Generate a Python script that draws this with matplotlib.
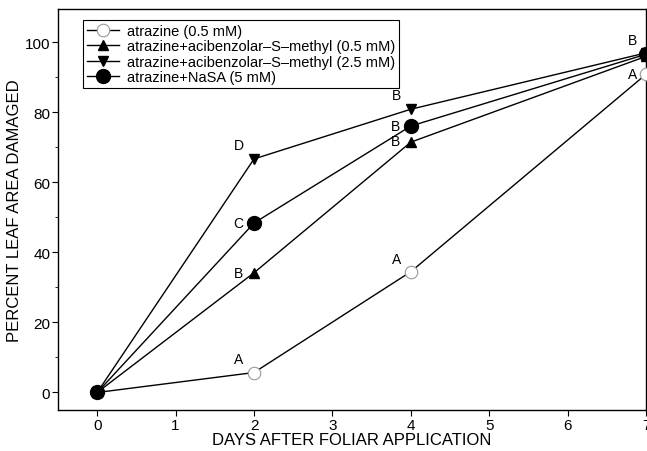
import numpy as np
import matplotlib.pyplot as plt

plt.rcParams['font.family'] = ['Liberation Sans', 'DejaVu Sans']

## Data
days = [0, 2, 4, 7]
atrazine = [0, 5.7, 34.5, 90.9]
asm_low = [0, 34.2, 71.5, 96.0]
asm_high = [0, 66.7, 80.9, 97.0]
nasa = [0, 48.4, 76.1, 96.6]

# letter labels (series, day index, letter)
letters = [
    ("atrazine", 1, "A"), ("asm_low", 1, "B"), ("nasa", 1, "C"), ("asm_high", 1, "D"),
    ("atrazine", 2, "A"), ("asm_low", 2, "B"), ("nasa", 2, "B"), ("asm_high", 2, "B"),
    ("atrazine", 3, "A"), ("nasa", 3, "B"),
]
series = {"atrazine": atrazine, "asm_low": asm_low, "asm_high": asm_high, "nasa": nasa}
# offsets in points for each label (left/up of the point)
offsets = [(-11, 10), (-11, 0), (-11, 0), (-11, 10),
           (-10, 9), (-11, 1), (-11, 0), (-10, 10),
           (-10, 0), (-10, 10)]

fig = plt.figure(figsize=(6.47, 4.52), dpi=100)
ax = fig.add_axes([0.0896, 0.0907, 0.909, 0.887])

ax.plot(days, atrazine, color='black', lw=1, marker='o', ms=9, mfc='white',
        mec='#999999', mew=0.8, label='atrazine (0.5 mM)', zorder=3)
ax.plot(days, asm_low, color='black', lw=1, marker='^', ms=7,
        label='atrazine+acibenzolar\u2013S\u2013methyl (0.5 mM)', zorder=3)
ax.plot(days, asm_high, color='black', lw=1, marker='v', ms=7,
        label='atrazine+acibenzolar\u2013S\u2013methyl (2.5 mM)', zorder=3)
ax.plot(days, nasa, color='black', lw=1, marker='o', ms=10,
        label='atrazine+NaSA (5 mM)', zorder=4)

for (key, i, txt), (dx, dy) in zip(letters, offsets):
    ax.annotate(txt, (days[i], series[key][i]), xytext=(dx, dy),
                textcoords='offset points', ha='center', va='center', fontsize=10)

ax.set_xlim(-0.5, 7)
ax.set_ylim(-5, 109.5)
ax.set_xticks(range(0, 8))
ax.set_yticks(range(0, 101, 20))
ax.set_yticks(range(10, 101, 20), minor=True)
ax.tick_params(direction='out', length=4, width=0.8, labelsize=11)
ax.tick_params(axis='x', pad=2)
ax.tick_params(axis='y', pad=1.5)
ax.tick_params(which='minor', direction='out', length=2.5, width=0.6)
for s in ax.spines.values():
    s.set_linewidth(1.0)

ax.set_xlabel("DAYS AFTER FOLIAR APPLICATION", fontsize=12, labelpad=0)
ax.set_ylabel("PERCENT LEAF AREA DAMAGED", fontsize=12, labelpad=2)

leg = ax.legend(loc='upper left', bbox_to_anchor=(0.03, 0.99), fontsize=10.5,
                frameon=True, fancybox=False, edgecolor='black', framealpha=1,
                handlelength=2.2, borderpad=0.25, labelspacing=0.1, handletextpad=0.6)
leg.get_frame().set_linewidth(0.8)

plt.savefig("out.png")
